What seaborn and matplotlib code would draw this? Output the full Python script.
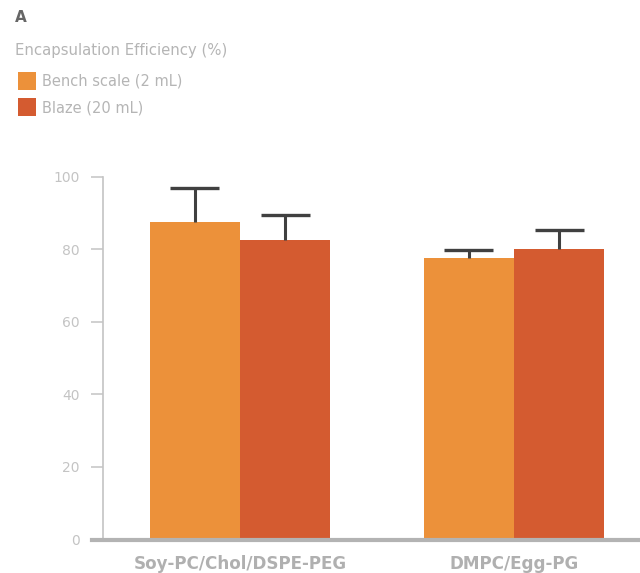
import matplotlib
matplotlib.use("Agg")
import matplotlib.pyplot as plt
import seaborn as sns
import pandas as pd

# Encapsulation efficiency by lipid formulation and batch scale
formulations = ["Soy-PC/Chol/DSPE-PEG", "DMPC/Egg-PG"]
scales = ["Bench scale (2 mL)", "Blaze (20 mL)"]
bench_mean = [87.5, 77.6]
blaze_mean = [82.6, 80.1]
bench_sd = [9.3, 2.2]
blaze_sd = [6.8, 5.3]
y_ticks = [0, 20, 40, 60, 80, 100]

colors = {"Bench scale (2 mL)": "#EC913A", "Blaze (20 mL)": "#D45B30"}
label_gray = "#c4c4c4"
axis_gray = "#b3b3b3"

df = pd.DataFrame({
    "formulation": formulations * 2,
    "scale": [scales[0]] * 2 + [scales[1]] * 2,
    "ee": bench_mean + blaze_mean,
    "sd": bench_sd + blaze_sd,
})

sns.set_style("white")
plt.rcParams["font.family"] = ["DejaVu Sans"]

W, H = 640, 573
fig = plt.figure(figsize=(W / 100, H / 100), dpi=100)
left_px, right_px = 92, 640
bottom_px, top_px = 539.5, 176.7
ax = fig.add_axes([left_px / W, (H - bottom_px) / H,
                   (right_px - left_px) / W, (bottom_px - top_px) / H])

sns.barplot(data=df, x="formulation", y="ee", hue="scale", order=formulations,
            hue_order=scales, palette=colors, width=0.66, errorbar=None,
            saturation=1, linewidth=0, ax=ax, zorder=2)

# category spacing: 274 px per category, first centre at x=240 px
unit = 274.0
x0 = 240.0
cap_half = 24.5 / unit

# upper-only error bars: stem from the bar top to mean + sd, with a cap
for container, s in zip(ax.containers, scales):
    sub = df[df["scale"] == s].set_index("formulation").loc[formulations]
    xs = [p.get_x() + p.get_width() / 2 for p in container.patches]
    tops = [p.get_height() for p in container.patches]
    ends = [t + e for t, e in zip(tops, sub["sd"])]
    ax.vlines(xs, tops, ends, color="#404040", linewidth=2.2, zorder=3)
    ax.hlines(ends, [x - cap_half for x in xs], [x + cap_half for x in xs],
              color="#404040", linewidth=2.4, zorder=3)

ax.set_xlim((left_px - x0) / unit, (right_px - x0) / unit)
ax.set_ylim(0, 100)

ax.spines["top"].set_visible(False)
ax.spines["right"].set_visible(False)
ax.spines["left"].set_position(("data", (103 - x0) / unit))
ax.spines["left"].set_bounds(0, 100)
ax.spines["left"].set_color(label_gray)
ax.spines["left"].set_linewidth(1.2)
ax.spines["bottom"].set_color(axis_gray)
ax.spines["bottom"].set_linewidth(3.0)
ax.spines["bottom"].set_zorder(4)

ax.set_yticks(y_ticks)
ax.tick_params(axis="y", left=True, length=8.5, width=1.1, color=label_gray,
               labelcolor=label_gray, labelsize=10, pad=8.5)
ax.tick_params(axis="x", bottom=False, labelsize=12.1, labelcolor="#b0b0b0", pad=8)
for t in ax.get_xticklabels():
    t.set_fontweight("bold")
ax.set_xlabel("")
ax.set_ylabel("")

handles, labels = ax.get_legend_handles_labels()
ax.legend(handles, labels, loc="upper left", bbox_to_anchor=(12 / W, 1 - 66 / H),
          bbox_transform=fig.transFigure, frameon=False, fontsize=10.5,
          handlelength=1.24, handleheight=1.5, handletextpad=0.4,
          labelspacing=0.6, borderaxespad=0, labelcolor="#b5b5b5")

fig.text(15 / W, 1 - 17 / H, "A", fontsize=11, fontweight="bold",
         color="#666666", va="center", ha="left")
fig.text(15 / W, 1 - 50 / H, "Encapsulation Efficiency (%)", fontsize=10.7,
         color="#b5b5b5", va="center", ha="left")

fig.savefig("out.png", dpi=100)
